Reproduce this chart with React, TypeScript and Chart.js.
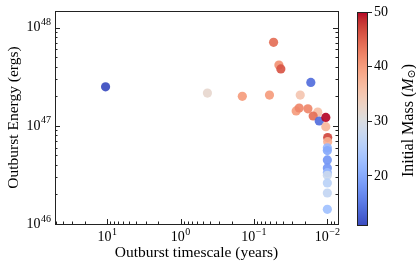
import React, { useEffect, useRef } from "react";
import { Chart, registerables } from "chart.js";
Chart.register(...registerables);

// ---- data ----
const timescaleYears = [
  10.5, 0.43, 0.144, 0.0614, 0.054, 0.0457, 0.043, 0.0168, 0.0234, 0.0266,
  0.0242, 0.0184, 0.0135, 0.0156, 0.0129, 0.0105, 0.0105, 0.0099, 0.0099, 0.01,
  0.01, 0.01, 0.01, 0.01, 0.01, 0.01, 0.01, 0.01,
];
const outburstEnergy = [
  2.5e47, 2.16e47, 2.0e47, 2.06e47, 7.1e47, 4.16e47, 3.8e47, 2.77e47, 2.06e47, 1.42e47,
  1.52e47, 1.49e47, 1.38e47, 1.26e47, 1.12e47, 1.22e47, 9.8e46, 7.6e46, 6.9e46, 5.97e46,
  5.6e46, 4.5e46, 3.73e46, 3.33e46, 3.14e46, 2.62e46, 2.07e46, 1.41e46,
];
const initialMass = [
  11, 32, 40, 40, 44, 41, 46, 14, 35, 40,
  42, 42, 36, 44, 14, 50, 37, 47, 38, 22,
  20, 18, 18, 22, 28, 26, 27, 23,
];
const xMajorTickValues = [10, 1, 0.1, 0.01];
const xMajorTickExponents = ["1", "0", "\u22121", "\u22122"];
const yMajorTickValues = [1e46, 1e47, 1e48];
const yMajorTickExponents = ["46", "47", "48"];
const colorbarTicks = [20, 30, 40, 50];

const X_MIN = 0.00716;
const X_MAX = 51.3;
const Y_MIN = 1e46;
const Y_MAX = 1.48e48;
const MASS_MIN = 11;
const MASS_MAX = 50;

const SERIF = '"Liberation Serif", "DejaVu Serif", serif';

// matplotlib coolwarm
const COOLWARM: number[][] = [
  [59, 76, 192], [68, 90, 204], [77, 104, 215], [87, 117, 225], [98, 130, 234],
  [108, 142, 241], [119, 154, 247], [130, 165, 251], [141, 176, 254], [152, 185, 255],
  [163, 194, 255], [174, 201, 253], [184, 208, 249], [194, 213, 244], [204, 217, 238],
  [213, 219, 230], [221, 221, 221], [229, 216, 209], [236, 211, 197], [241, 204, 185],
  [245, 196, 173], [247, 187, 160], [247, 177, 148], [247, 166, 135], [244, 154, 123],
  [241, 141, 111], [236, 127, 99], [229, 112, 88], [222, 96, 77], [213, 80, 66],
  [203, 62, 56], [192, 40, 47], [180, 4, 38],
];
function coolwarm(t: number, alpha = 1): string {
  const tt = Math.min(1, Math.max(0, t)) * (COOLWARM.length - 1);
  const i = Math.min(COOLWARM.length - 2, Math.floor(tt));
  const f = tt - i;
  const a = COOLWARM[i], b = COOLWARM[i + 1];
  const c = a.map((v, k) => Math.round(v + (b[k] - v) * f));
  return `rgba(${c[0]},${c[1]},${c[2]},${alpha})`;
}
const massColor = (m: number, alpha = 1) => coolwarm((m - MASS_MIN) / (MASS_MAX - MASS_MIN), alpha);

function drawPow(ctx: CanvasRenderingContext2D, exp: string, x: number, y: number, align: "center" | "right") {
  ctx.font = `14px ${SERIF}`;
  const wb = ctx.measureText("10").width;
  ctx.font = `10px ${SERIF}`;
  const we = ctx.measureText(exp).width;
  const total = wb + we + 0.5;
  const start = align === "center" ? x - total / 2 : x - total;
  ctx.textAlign = "left";
  ctx.textBaseline = "middle";
  ctx.fillStyle = "#000";
  ctx.font = `14px ${SERIF}`;
  ctx.fillText("10", start, y);
  ctx.font = `10px ${SERIF}`;
  ctx.fillText(exp, start + wb + 0.5, y - 5);
}

const axesPlugin = {
  id: "mplAxes",
  afterDraw(chart: any) {
    const { ctx, chartArea: a, scales } = chart;
    const xs = scales.x, ys = scales.y;
    ctx.save();
    ctx.strokeStyle = "#222";
    ctx.lineWidth = 1;
    ctx.strokeRect(Math.round(a.left) + 0.5, Math.round(a.top) + 0.5, Math.round(a.right - a.left), Math.round(a.bottom - a.top));
    ctx.beginPath();
    for (let e = -3; e <= 2; e++) {
      for (let k = 1; k <= 9; k++) {
        const v = k * Math.pow(10, e);
        if (v < X_MIN || v > X_MAX) continue;
        const px = Math.round(xs.getPixelForValue(v)) + 0.5;
        const len = k === 1 ? 5 : 2.5;
        ctx.moveTo(px, a.bottom);
        ctx.lineTo(px, a.bottom - len);
      }
    }
    for (let e = 45; e <= 48; e++) {
      for (let k = 1; k <= 9; k++) {
        const v = k * Math.pow(10, e);
        if (v < Y_MIN || v > Y_MAX) continue;
        const py = Math.round(ys.getPixelForValue(v)) + 0.5;
        const len = k === 1 ? 5 : 2.5;
        ctx.moveTo(a.left, py);
        ctx.lineTo(a.left + len, py);
        ctx.moveTo(a.right, py);
        ctx.lineTo(a.right - len, py);
      }
    }
    ctx.stroke();
    xMajorTickValues.forEach((v, i) => {
      drawPow(ctx, xMajorTickExponents[i], xs.getPixelForValue(v), a.bottom + 13, "center");
    });
    yMajorTickValues.forEach((v, i) => {
      drawPow(ctx, yMajorTickExponents[i], a.left - 4, ys.getPixelForValue(v), "right");
    });
    ctx.restore();
  },
};

const colorbarPlugin = {
  id: "colorbarFrame",
  afterDraw(chart: any) {
    const { ctx, chartArea: a } = chart;
    ctx.save();
    ctx.strokeStyle = "#222";
    ctx.lineWidth = 1;
    ctx.strokeRect(Math.round(a.left) + 0.5, Math.round(a.top) + 0.5, Math.round(a.right - a.left) - 1, Math.round(a.bottom - a.top));
    // rotated label reading bottom-to-top
    const segs: [string, string, number][] = [
      ["Initial Mass (", `16px ${SERIF}`, 0],
      ["M", `italic 16px ${SERIF}`, 0],
      ["\u2299", `11px ${SERIF}`, 3],
      [")", `16px ${SERIF}`, 0],
    ];
    let total = 0;
    const widths = segs.map(([t, f]) => {
      ctx.font = f;
      const w = ctx.measureText(t).width;
      total += w;
      return w;
    });
    ctx.translate(64, (a.top + a.bottom) / 2 + 2);
    ctx.rotate(-Math.PI / 2);
    ctx.fillStyle = "#000";
    ctx.textBaseline = "middle";
    ctx.textAlign = "left";
    let x = -total / 2;
    segs.forEach(([t, f, dy], i) => {
      ctx.font = f;
      ctx.fillText(t, x, dy);
      x += widths[i];
    });
    ctx.restore();
  },
};

export default function App() {
  const mainRef = useRef<HTMLCanvasElement>(null);
  const cbRef = useRef<HTMLCanvasElement>(null);

  useEffect(() => {
    const main = new Chart(mainRef.current!, {
      type: "scatter",
      data: {
        datasets: [
          {
            data: timescaleYears.map((t, i) => ({ x: t, y: outburstEnergy[i] })),
            pointBackgroundColor: initialMass.map((m) => massColor(m, 0.92)),
            pointBorderWidth: 0,
            pointRadius: 4.6,
            pointHoverRadius: 4.6,
            showLine: false,
          },
        ],
      },
      options: {
        animation: false,
        responsive: false,
        devicePixelRatio: 1,
        events: [],
        layout: { padding: { top: 11, right: 7, left: 0, bottom: 0 } },
        plugins: { legend: { display: false }, tooltip: { enabled: false } },
        scales: {
          x: {
            type: "logarithmic",
            reverse: true,
            min: X_MIN,
            max: X_MAX,
            ticks: { display: false },
            grid: { display: false },
            border: { display: false },
            title: {
              display: true,
              text: "Outburst timescale (years)",
              color: "#000",
              font: { family: SERIF, size: 15.5 },
              padding: { top: 0, bottom: 5 },
            },
            afterFit: (s: any) => {
              s.height = 43;
            },
          },
          y: {
            type: "logarithmic",
            min: Y_MIN,
            max: Y_MAX,
            ticks: { display: false },
            grid: { display: false },
            border: { display: false },
            title: {
              display: true,
              text: "Outburst Energy (ergs)",
              color: "#000",
              font: { family: SERIF, size: 15.5 },
              padding: { top: 4.5, bottom: 0 },
            },
            afterFit: (s: any) => {
              s.width = 55;
            },
          },
        },
      },
      plugins: [axesPlugin],
    } as any);

    const cb = new Chart(cbRef.current!, {
      type: "bar",
      data: {
        labels: ["mass"],
        datasets: [
          {
            data: [[MASS_MIN, MASS_MAX]],
            barPercentage: 1,
            categoryPercentage: 1,
            borderWidth: 0,
            backgroundColor: (c: any) => {
              const ca = c.chart.chartArea;
              if (!ca) return "transparent";
              const g = c.chart.ctx.createLinearGradient(0, ca.bottom, 0, ca.top);
              for (let i = 0; i <= 32; i++) g.addColorStop(i / 32, coolwarm(i / 32));
              return g;
            },
          },
        ],
      },
      options: {
        animation: false,
        responsive: false,
        devicePixelRatio: 1,
        events: [],
        layout: { padding: { top: 12, left: 12, right: 0, bottom: 42 } },
        plugins: { legend: { display: false }, tooltip: { enabled: false } },
        scales: {
          x: { display: false },
          y: {
            position: "right",
            min: MASS_MIN,
            max: MASS_MAX,
            afterBuildTicks: (s: any) => {
              s.ticks = colorbarTicks.map((v) => ({ value: v }));
            },
            ticks: { color: "#000", font: { family: SERIF, size: 14 }, padding: 2 },
            grid: { drawOnChartArea: false, drawTicks: true, tickLength: 4, color: "#222" },
            border: { display: false },
            afterFit: (s: any) => {
              s.width = 48;
            },
          },
        },
      },
      plugins: [colorbarPlugin],
    } as any);

    return () => {
      main.destroy();
      cb.destroy();
    };
  }, []);

  return (
    <div style={{ position: "fixed", left: 0, top: 0, width: 416, height: 267, background: "#fff" }}>
      <canvas ref={mainRef} width={345} height={267} style={{ position: "absolute", left: 0, top: 0 }} />
      <canvas ref={cbRef} width={71} height={267} style={{ position: "absolute", left: 345, top: 0 }} />
    </div>
  );
}
